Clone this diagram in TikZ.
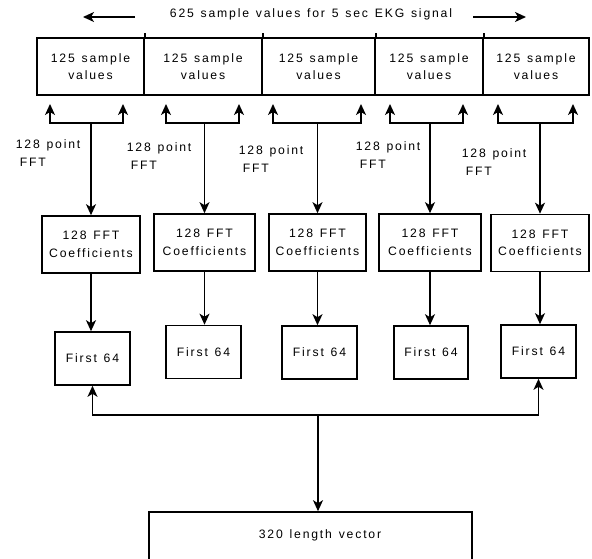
\documentclass[tikz,border=0pt]{standalone}
\usepackage{fontspec}
\newfontfamily\spacedsans[LetterSpace=15, WordSpace=1.3]{Liberation Sans}
\usepackage{tikz}
\usetikzlibrary{positioning, arrows.meta}

\begin{document}
\begin{tikzpicture}[
    x=1pt, y=-1pt,
    every node/.style={font=\spacedsans\fontsize{12.2}{17.5}\selectfont, inner sep=0pt},
    line width=1.6pt,
    cell/.style={draw, minimum width=#1, minimum height=57, align=center},
    coeff/.style={draw, minimum width=#1, minimum height=57, align=center},
    firstbox/.style={draw, minimum width=75, minimum height=53},
    fftlabel/.style={anchor=west, align=left},
    arrow/.style={-{Stealth[length=11pt, width=10pt, inset=3pt]}, line width=1.6pt}
]

\useasboundingbox (0,0) rectangle (592,559);
\clip (0,0) rectangle (592,559);

% Title with arrows
\node (title) at (311,14) {625 sample values for 5 sec EKG signal};
\coordinate (lb) at (135,17);
\coordinate (la) at (83,17);
\coordinate (rb) at (473,17);
\coordinate (ra) at (526,17);
\draw[arrow] (lb) -- (la);
\draw[arrow] (rb) -- (ra);

% Sample blocks
\node[cell=107] (c1) at (90.5,66.5) {125 sample\\values};
\node[cell=118] (c2) at (203,66.5) {125 sample\\values};
\node[cell=113] (c3) at (318.5,66.5) {125 sample\\values};
\node[cell=108] (c4) at (429,66.5) {125 sample\\values};
\node[cell=106] (c5) at (536,66.5) {125 sample\\values};
\foreach \i in {1,...,4} {
    \draw (c\i.north east) -- ++(0,-4);
}

% FFT coefficient boxes
\node[coeff=98] (k1) at (91,244.5) {128 FFT\\Coefficients};
\node[coeff=101] (k2) at (204.5,242.5) {128 FFT\\Coefficients};
\node[coeff=97] (k3) at (317.5,242.5) {128 FFT\\Coefficients};
\node[coeff=102] (k4) at (430,242.5) {128 FFT\\Coefficients};
\node[coeff=98] (k5) at (540,243) {128 FFT\\Coefficients};

% First 64 boxes
\node[firstbox] (f1) at (92.5,358.5) {First 64};
\node[firstbox] (f2) at (203.5,352) {First 64};
\node[firstbox] (f3) at (319.5,352.5) {First 64};
\node[firstbox, minimum width=74] (f4) at (431,352.5) {First 64};
\node[firstbox] (f5) at (538.5,351.5) {First 64};

% FFT labels
\node[fftlabel] (p1) at (15,153) {128 point\\\hspace*{4pt}FFT};
\node[fftlabel] (p2) at (126,156) {128 point\\\hspace*{4pt}FFT};
\node[fftlabel] (p3) at (238,159) {128 point\\\hspace*{4pt}FFT};
\node[fftlabel] (p4) at (355,155) {128 point\\\hspace*{4pt}FFT};
\node[fftlabel] (p5) at (461,162) {128 point\\\hspace*{4pt}FFT};

% Forks from each block
\foreach \i/\l/\r in {1/50/123, 2/166/239, 3/273/361, 4/390/463, 5/498/573} {
    \coordinate (tl\i) at (\l,104);
    \coordinate (tr\i) at (\r,104);
    \coordinate (j\i) at (k\i.north |- 0,123);
    \draw[arrow] (j\i) -| (tl\i);
    \draw[arrow] (j\i) -| (tr\i);
    \draw[arrow] (j\i) -- (k\i.north);
    \draw[arrow] (k\i.south) -- (k\i.south |- f\i.north);
}

% Output vector
\node[draw, minimum width=323, minimum height=70] (vec) at (310.5,547) {};
\node (vectext) at (320,535) {320 length vector};
\coordinate (jb) at (318,415);
\draw[arrow] (jb) -| (f1.south);
\draw[arrow] (jb) -| (f5.south);
\draw[arrow] (jb) -- (jb |- vec.north);

\end{tikzpicture}
\end{document}
